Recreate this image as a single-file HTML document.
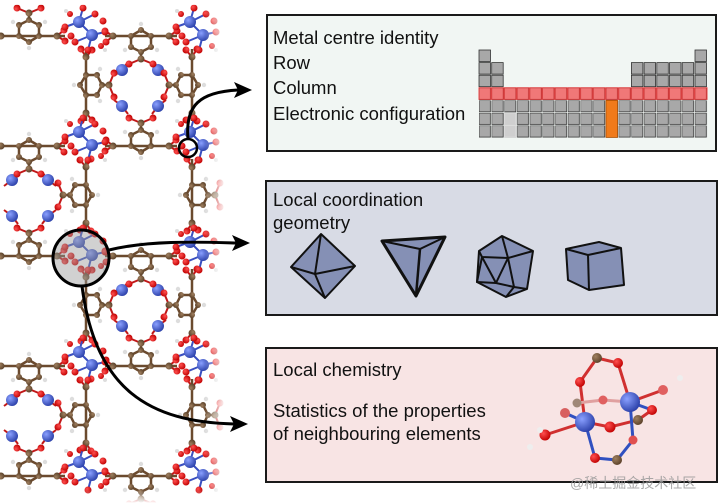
<!DOCTYPE html>
<html><head><meta charset="utf-8"><style>
html,body{margin:0;padding:0;background:#fff;}
body{width:720px;height:503px;overflow:hidden;position:relative;font-family:"Liberation Sans",Arial,sans-serif;}
svg{position:absolute;left:0;top:0;}
</style></head><body>
<svg width="720" height="503" viewBox="0 0 720 503" xmlns="http://www.w3.org/2000/svg">
<defs>
<radialGradient id="gb" cx="35%" cy="35%" r="70%"><stop offset="0" stop-color="#8aa0ff"/><stop offset="1" stop-color="#2a3fa8"/></radialGradient>
<radialGradient id="gr" cx="35%" cy="35%" r="70%"><stop offset="0" stop-color="#ff5050"/><stop offset="1" stop-color="#c00000"/></radialGradient>
<radialGradient id="gc" cx="35%" cy="35%" r="70%"><stop offset="0" stop-color="#a08060"/><stop offset="1" stop-color="#5a4028"/></radialGradient>
<linearGradient id="fade" x1="0" x2="1"><stop offset="0" stop-color="#fff" stop-opacity="0"/><stop offset="1" stop-color="#fff" stop-opacity="1"/></linearGradient>
<linearGradient id="fadev" x1="0" x2="0" y1="0" y2="1"><stop offset="0" stop-color="#fff" stop-opacity="0"/><stop offset="1" stop-color="#fff" stop-opacity="1"/></linearGradient>
<g id="cl">
 <g stroke="#3a4fc0" stroke-width="2"><line x1="-6" y1="-8" x2="7" y2="5"/><line x1="-6" y1="-8" x2="-20" y2="-3"/><line x1="-6" y1="-8" x2="-2" y2="-22"/><line x1="7" y1="5" x2="20" y2="2"/><line x1="7" y1="5" x2="3" y2="20"/><line x1="-6" y1="-8" x2="10" y2="-16"/><line x1="7" y1="5" x2="-10" y2="12"/></g>
 <circle cx="-20" cy="-3" r="3.5" fill="url(#gr)"/><circle cx="-14" cy="6" r="3.5" fill="url(#gr)"/><circle cx="-2" cy="-22" r="3.5" fill="url(#gr)"/><circle cx="10" cy="-16" r="3.5" fill="url(#gr)"/>
 <circle cx="20" cy="2" r="3.5" fill="url(#gr)"/><circle cx="18" cy="-9" r="3.5" fill="url(#gr)"/><circle cx="3" cy="20" r="3.5" fill="url(#gr)"/><circle cx="-10" cy="12" r="3.5" fill="url(#gr)"/>
 <circle cx="-15" cy="-16" r="3" fill="url(#gr)"/><circle cx="-19" cy="-19" r="2" fill="#ddd"/><circle cx="16" cy="16" r="3" fill="url(#gr)"/><circle cx="20" cy="20" r="2" fill="#ddd"/>
 <circle cx="-6" cy="-8" r="6" fill="url(#gb)"/><circle cx="7" cy="5" r="6" fill="url(#gb)"/>
</g>
<!-- linker: horizontal, branch toward +y -->
<g id="hl">
 <g stroke="#6b4a2e" stroke-width="2.5" fill="none">
  <line x1="-36" y1="0" x2="36" y2="0"/>
  <polygon points="0,-6 10,0 10,11 0,16 -10,11 -10,0" fill="none"/>
  <line x1="0" y1="16" x2="0" y2="23"/>
 </g>
 <g stroke="#c01818" stroke-width="2"><line x1="-28" y1="0" x2="-36" y2="-5"/><line x1="-28" y1="0" x2="-35" y2="6"/><line x1="28" y1="0" x2="36" y2="-5"/><line x1="28" y1="0" x2="35" y2="6"/><line x1="0" y1="23" x2="-12" y2="28"/><line x1="0" y1="23" x2="12" y2="28"/></g>
 <g fill="url(#gr)"><circle cx="-36" cy="-5" r="3.5"/><circle cx="-35" cy="6" r="3.5"/><circle cx="36" cy="-5" r="3.5"/><circle cx="35" cy="6" r="3.5"/><circle cx="-12" cy="28" r="3.5"/><circle cx="12" cy="28" r="3.5"/></g>
 <g fill="url(#gc)"><circle cx="-28" cy="0" r="3.5"/><circle cx="28" cy="0" r="3.5"/><circle cx="0" cy="-6" r="3"/><circle cx="10" cy="0" r="3"/><circle cx="10" cy="11" r="3"/><circle cx="0" cy="16" r="3"/><circle cx="-10" cy="11" r="3"/><circle cx="-10" cy="0" r="3"/><circle cx="0" cy="23" r="3.5"/></g>
 <g fill="#ddd"><circle cx="0" cy="-12" r="2.2"/><circle cx="-16" cy="14" r="2.2"/><circle cx="16" cy="14" r="2.2"/></g>
</g>
<g id="hd"><use href="#hl"/></g>
<g id="hu"><use href="#hl" transform="scale(1,-1)"/></g>
<g id="vr"><use href="#hl" transform="rotate(-90)"/></g>
<g id="vL"><use href="#hl" transform="rotate(90)"/></g>
<g id="rg">
 <g stroke="#c01818" stroke-width="2"><line x1="-18" y1="-18" x2="-12" y2="-26"/><line x1="18" y1="-18" x2="12" y2="-26"/><line x1="-18" y1="18" x2="-12" y2="26"/><line x1="18" y1="18" x2="12" y2="26"/><line x1="-18" y1="-18" x2="-26" y2="-12"/><line x1="-18" y1="18" x2="-26" y2="12"/><line x1="18" y1="-18" x2="26" y2="-12"/><line x1="18" y1="18" x2="26" y2="12"/></g>
 <g fill="url(#gb)"><circle cx="-18" cy="-18" r="6"/><circle cx="18" cy="-18" r="6"/><circle cx="-18" cy="18" r="6"/><circle cx="18" cy="18" r="6"/></g>
</g>
</defs>

<!-- lattice -->
<g>
 <use href="#rg" x="140" y="88"/><use href="#rg" x="30" y="198"/><use href="#rg" x="140" y="308"/><use href="#rg" x="30" y="418"/>
 <use href="#hd" x="141" y="36"/><use href="#hu" x="29" y="36"/>
 <use href="#hu" x="141" y="146"/><use href="#hd" x="29" y="146"/>
 <use href="#hd" x="141" y="256"/><use href="#hu" x="29" y="256"/>
 <use href="#hu" x="141" y="366"/><use href="#hd" x="29" y="366"/>
 <use href="#hd" x="141" y="476"/><use href="#hu" x="29" y="476"/>
 <use href="#vr" x="86" y="85"/><use href="#vL" x="192" y="85"/>
 <use href="#vL" x="86" y="195"/><use href="#vr" x="192" y="195"/>
 <use href="#vr" x="86" y="305"/><use href="#vL" x="192" y="305"/>
 <use href="#vL" x="86" y="415"/><use href="#vr" x="192" y="415"/>
 <use href="#cl" x="85" y="30"/><use href="#cl" x="196" y="30"/>
 <use href="#cl" x="85" y="140"/><use href="#cl" x="196" y="140"/>
 <use href="#cl" x="85" y="250"/><use href="#cl" x="196" y="250"/>
 <use href="#cl" x="85" y="360"/><use href="#cl" x="196" y="360"/>
 <use href="#cl" x="85" y="470"/><use href="#cl" x="196" y="470"/>
 <rect x="205" y="0" width="20" height="503" fill="url(#fade)"/>
 <rect x="225" y="0" width="40" height="503" fill="#fff"/>
 <rect x="0" y="0" width="225" height="5" fill="#fff" opacity="0.7"/>
 <rect x="0" y="490" width="225" height="13" fill="url(#fadev)"/>
</g>

<!-- highlight circles -->
<circle cx="81" cy="258" r="28" fill="#999" fill-opacity="0.45" stroke="#000" stroke-width="3"/>
<circle cx="188" cy="148" r="9" fill="none" stroke="#000" stroke-width="2.5"/>

<!-- arrows -->
<g fill="none" stroke="#000" stroke-width="3">
 <path d="M188,139 C185,105 200,92 238,90"/>
 <path d="M109,250 C150,240 200,242 236,243"/>
 <path d="M82,286 C95,390 150,422 234,424"/>
</g>
<g fill="#000">
 <polygon points="252,90 234,82 238,90 234,98"/>
 <polygon points="250,243 232,235 236,243 232,251"/>
 <polygon points="248,424 230,416 234,424 230,432"/>
</g>

<!-- panel 1 -->
<rect x="267" y="15" width="449" height="136" fill="#f1f6f3" stroke="#1a1a1a" stroke-width="2"/>
<g font-size="18.5" fill="#111">
 <text x="273" y="44">Metal centre identity</text>
 <text x="273" y="69">Row</text>
 <text x="273" y="94">Column</text>
 <text x="273" y="120">Electronic configuration</text>
</g>
<g stroke="#333" stroke-width="0.8" fill="#a8a8a8">
 <rect x="479" y="50" width="11.5" height="11.5"/><rect x="695" y="50" width="11.5" height="11.5"/>
 <rect x="479" y="62.6" width="11.5" height="11.5"/><rect x="491.7" y="62.6" width="11.5" height="11.5"/>
 <rect x="479" y="75.2" width="11.5" height="11.5"/><rect x="491.7" y="75.2" width="11.5" height="11.5"/>
 <rect x="631.4" y="62.6" width="11.5" height="11.5"/><rect x="644.1" y="62.6" width="11.5" height="11.5"/><rect x="656.8" y="62.6" width="11.5" height="11.5"/><rect x="669.5" y="62.6" width="11.5" height="11.5"/><rect x="682.2" y="62.6" width="11.5" height="11.5"/><rect x="695" y="62.6" width="11.5" height="11.5"/>
 <rect x="631.4" y="75.2" width="11.5" height="11.5"/><rect x="644.1" y="75.2" width="11.5" height="11.5"/><rect x="656.8" y="75.2" width="11.5" height="11.5"/><rect x="669.5" y="75.2" width="11.5" height="11.5"/><rect x="682.2" y="75.2" width="11.5" height="11.5"/><rect x="695" y="75.2" width="11.5" height="11.5"/>
</g>
<pattern id="cellp" x="479" y="100.4" width="12.7" height="12.6" patternUnits="userSpaceOnUse"><rect x="0" y="0" width="11.5" height="11.5" fill="#a8a8a8" stroke="#333" stroke-width="0.8"/></pattern>
<pattern id="cellr" x="479" y="87.8" width="12.7" height="12.6" patternUnits="userSpaceOnUse"><rect x="0" y="0" width="11.5" height="11.5" fill="#f07878" stroke="#c03030" stroke-width="0.8"/></pattern>
<rect x="478.5" y="87.3" width="229" height="12.6" fill="#e84848"/>
<rect x="478.5" y="87.3" width="229" height="12.6" fill="url(#cellr)"/>
<rect x="478.5" y="99.9" width="229" height="38" fill="url(#cellp)"/>
<rect x="504.4" y="113" width="11.5" height="11.5" fill="#cfcfcf" stroke="#ddd" stroke-width="0.8"/>
<rect x="504.4" y="125.6" width="11.5" height="11.5" fill="#cfcfcf" stroke="#ddd" stroke-width="0.8"/>
<rect x="606" y="100.4" width="11.5" height="37" fill="#f07a1a" stroke="#b05000" stroke-width="0.8"/>

<!-- panel 2 -->
<rect x="266" y="181" width="451" height="134" fill="#d8dbe5" stroke="#1a1a1a" stroke-width="2"/>
<g font-size="18.5" fill="#111">
 <text x="273" y="206">Local coordination</text>
 <text x="273" y="229">geometry</text>
</g>
<g fill="#8590b5" stroke="#111" stroke-width="2" stroke-linejoin="round">
 <polygon points="321,234 291,267 325,298 355,266"/>
 <polyline fill="none" points="321,234 315,274 291,267"/><line x1="315" y1="274" x2="325" y2="298"/><line x1="315" y1="274" x2="355" y2="266"/>
 <polygon points="382,241 445,237 416,296" stroke-width="3"/>
 <polyline fill="none" points="382,241 420,249 445,237"/><line x1="420" y1="249" x2="416" y2="296" stroke-width="2.5"/>
 <polygon points="502,236 533,251 527,289 506,297 477,282 479,251"/>
 <polyline fill="none" points="479,251 482,257 508,258 502,236"/><polyline fill="none" points="508,258 533,251"/><polyline fill="none" points="482,257 477,282 496,283 508,258 514,287 527,289"/><polyline fill="none" points="496,283 514,287 506,297"/><line x1="496" y1="283" x2="482" y2="257"/>
 <polygon points="566,249 599,242 621,248 624,285 589,290 568,280"/>
 <polyline fill="none" points="566,249 588,255 621,248"/><line x1="588" y1="255" x2="589" y2="290"/>
</g>

<!-- panel 3 -->
<rect x="266" y="348" width="451" height="134" fill="#f8e4e4" stroke="#1a1a1a" stroke-width="2"/>
<g font-size="18.5" fill="#111">
 <text x="273" y="376">Local chemistry</text>
 <text x="273" y="417">Statistics of the properties</text>
 <text x="273" y="440">of neighbouring elements</text>
</g>
<g stroke-width="3" fill="none">
 <path d="M597,358 L618,363 L630,402 L663,390" stroke="#d03030"/>
 <path d="M597,358 L580,382 L585,422 L545,435" stroke="#d03030"/>
 <path d="M577,403 L603,400 L630,402" stroke="#e0a0a0"/>
 <path d="M585,422 L610,427 L638,420 L652,410" stroke="#d03030"/>
 <path d="M630,402 L633,440 L617,460 L595,458 L585,422" stroke="#3050c0"/>
 <path d="M585,422 L565,413" stroke="#3050c0"/>
 <path d="M630,402 L652,410" stroke="#3050c0"/>
</g>
<g>
 <circle cx="597" cy="358" r="5" fill="url(#gc)"/><circle cx="618" cy="363" r="5" fill="url(#gr)"/><circle cx="580" cy="382" r="5" fill="url(#gr)"/>
 <circle cx="603" cy="400" r="4.5" fill="#e06060"/><circle cx="577" cy="403" r="4.5" fill="#a08878"/><circle cx="565" cy="413" r="5" fill="#d86060"/>
 <circle cx="663" cy="390" r="5" fill="#e06060"/><circle cx="680" cy="378" r="3" fill="#eee"/>
 <circle cx="652" cy="410" r="5" fill="url(#gr)"/><circle cx="638" cy="420" r="5" fill="url(#gc)"/><circle cx="610" cy="427" r="5.5" fill="url(#gr)"/>
 <circle cx="545" cy="435" r="5.5" fill="url(#gr)"/><circle cx="540" cy="430" r="3" fill="#eee"/><circle cx="530" cy="447" r="3" fill="#eee"/>
 <circle cx="633" cy="440" r="4.5" fill="#e05050"/><circle cx="595" cy="458" r="5" fill="url(#gr)"/><circle cx="617" cy="460" r="5" fill="url(#gc)"/>
 <circle cx="585" cy="422" r="10" fill="url(#gb)"/><circle cx="630" cy="402" r="10" fill="url(#gb)"/>
</g>
<text x="570" y="488" font-size="14" fill="#9a9a9a" fill-opacity="0.85" font-family="Liberation Sans,'Noto Sans CJK SC',sans-serif">@稀土掘金技术社区</text>
</svg>
</body></html>
